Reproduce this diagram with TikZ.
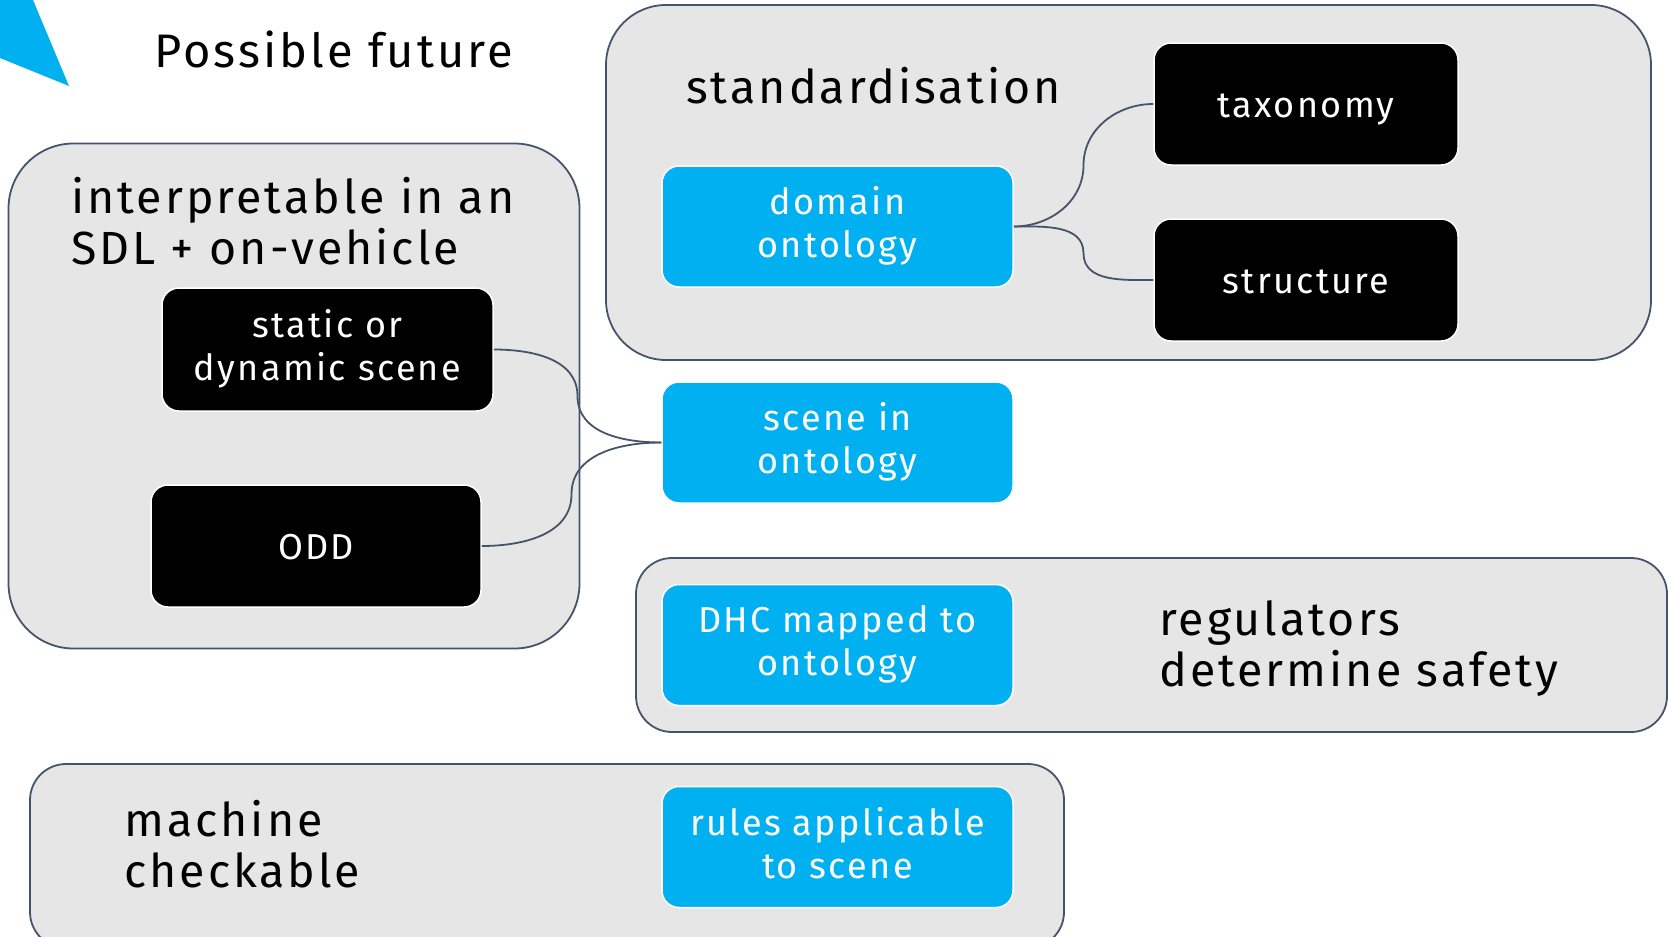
\documentclass[tikz,border=0pt]{standalone}
\usepackage{fontspec}
\setmainfont{Fira Sans}[LetterSpace=6.5]
\usetikzlibrary{calc}
\definecolor{accent}{HTML}{00B0F0}
\definecolor{panelgrey}{HTML}{E6E6E6}
\definecolor{edge}{HTML}{44546A}
% line strut for box labels: sets where each label line sits in its box
\newcommand{\boxstrut}{\rule[-8.4pt]{0pt}{43pt}}
\begin{document}
\begin{tikzpicture}[x=1pt,y=-1pt,
  panel/.style={draw=edge, line width=1.8pt, fill=panelgrey, rounded corners=#1,
    inner sep=0pt, minimum width=\pw, minimum height=\ph},
  box/.style={draw=white, line width=1.5pt, rounded corners=17pt, text=white,
    align=center, inner sep=0pt, minimum width=\bw, minimum height=\bh,
    font=\fontsize{36}{43}\selectfont, execute at begin node=\boxstrut},
  darkbox/.style={box, fill=black},
  bluebox/.style={box, fill=accent},
  heading/.style={anchor=base west, inner sep=0pt, align=left,
    font=\fontsize{46.5}{51}\selectfont},
  link/.style={draw=edge, line width=1.8pt}]
\useasboundingbox (0,0) rectangle (1668,937);
\clip (0,0) rectangle (1668,937);

% corner marker and title
\fill[accent] (0,0) -- (33,0) -- (69,86) -- (0,58) -- cycle;
\node[anchor=base west, inner sep=0pt, font=\fontsize{47}{52}\selectfont]
  (title) at (154,67) {Possible future};

% grey panels
\def\pw{571pt}\def\ph{505pt}
\node[panel=65pt] (interp) at (294,396) {};
\def\pw{1045pt}\def\ph{355pt}
\node[panel=60pt] (std) at (1128.5,182.5) {};
\def\pw{1031pt}\def\ph{174pt}
\node[panel=36pt] (reg) at (1151.5,645) {};
\def\pw{1034pt}\def\ph{184pt}
\node[panel=36pt] (mach) at (547,856) {};

% panel headings (anchored at the baseline of their last line)
\node[heading] (interpT) at (71,264) {interpretable in an\\SDL + on-vehicle};
\node[heading] (stdT) at (686,103) {standardisation};
\node[heading] (regT) at (1159,686) {regulators\\determine safety};
\node[heading] (machT) at (124,887) {machine\\checkable};

% black boxes
\def\bw{331pt}\def\bh{123pt}
\node[darkbox] (static) at (327.5,349.5) {static or\\\boxstrut dynamic scene};
\def\bw{330pt}\def\bh{122pt}
\node[darkbox] (odd) at (316,546) {ODD};
\def\bw{304pt}\def\bh{122pt}
\node[darkbox] (tax) at (1306,104) {taxonomy};
\node[darkbox] (struct) at (1306,280) {structure};

% blue boxes
\def\bw{351pt}\def\bh{121pt}
\node[bluebox] (domain) at (837.5,226.5) {domain\\\boxstrut ontology};
\node[bluebox] (scene) at (837.5,442.5) {scene in\\\boxstrut ontology};
\node[bluebox] (dhc) at (837.5,645) {DHC mapped to\\\boxstrut ontology};
\node[bluebox] (rules) at (837.5,847) {rules applicable\\\boxstrut to scene};

% curved connectors
\coordinate (m1) at ($(static.east)!0.5!(scene.west)$);
\coordinate (m2) at ($(odd.east)!0.5!(scene.west)$);
\coordinate (m3) at ($(domain.east)!0.5!(tax.west)$);
\coordinate (m4) at ($(domain.east)!0.5!(struct.west)$);
\draw[link] (static.east) to[out=0,in=90] (m1) to[out=-90,in=180] (scene.west);
\draw[link] (odd.east) to[out=0,in=-90] (m2) to[out=90,in=180] (scene.west);
\draw[link] (domain.east) to[out=0,in=-90] (m3) to[out=90,in=180] (tax.west);
\draw[link] (domain.east) to[out=0,in=90] (m4) to[out=-90,in=180] (struct.west);
\end{tikzpicture}
\end{document}
